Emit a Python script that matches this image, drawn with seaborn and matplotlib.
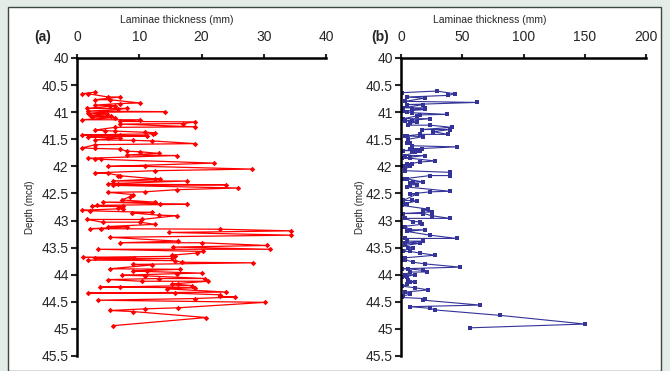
import matplotlib
matplotlib.use('Agg')
import matplotlib.pyplot as plt
import matplotlib.patches as mpatches
import seaborn as sns

# Panel (a): depth (mcd) and laminae thickness (mm)
depth_a = [40.63, 40.66, 40.66, 40.72, 40.72, 40.77, 40.77, 40.83, 40.84, 40.87,
           40.88, 40.89, 40.93, 40.93, 40.95, 40.98, 40.99, 41.00, 41.02, 41.03,
           41.06, 41.07, 41.09, 41.10, 41.14, 41.14, 41.17, 41.18, 41.21, 41.22,
           41.27, 41.28, 41.33, 41.34, 41.35, 41.37, 41.38, 41.40, 41.42, 41.43,
           41.44, 41.46, 41.47, 41.48, 41.51, 41.52, 41.53, 41.58, 41.60, 41.66,
           41.67, 41.68, 41.72, 41.73, 41.76, 41.79, 41.80, 41.85, 41.86, 41.87,
           41.94, 42.00, 42.00, 42.05, 42.08, 42.12, 42.13, 42.17, 42.17, 42.23,
           42.23, 42.27, 42.27, 42.32, 42.33, 42.34, 42.35, 42.40, 42.43, 42.47,
           42.48, 42.52, 42.56, 42.62, 42.66, 42.66, 42.69, 42.70, 42.72, 42.74,
           42.74, 42.77, 42.78, 42.81, 42.82, 42.85, 42.86, 42.90, 42.91, 42.98,
           42.98, 43.03, 43.03, 43.07, 43.11, 43.12, 43.15, 43.15, 43.16, 43.19,
           43.22, 43.27, 43.31, 43.38, 43.41, 43.41, 43.46, 43.49, 43.53, 43.53,
           43.57, 43.60, 43.64, 43.66, 43.68, 43.69, 43.70, 43.70, 43.73, 43.74,
           43.77, 43.78, 43.81, 43.82, 43.89, 43.90, 43.93, 43.94, 43.97, 43.98,
           44.01, 44.02, 44.07, 44.07, 44.09, 44.12, 44.12, 44.17, 44.18, 44.20,
           44.23, 44.23, 44.24, 44.26, 44.32, 44.34, 44.34, 44.37, 44.40, 44.41,
           44.44, 44.47, 44.51, 44.61, 44.63, 44.66, 44.68, 44.79, 44.94]
thick_a = [2.9, 0.8, 1.8, 5.0, 6.9, 2.9, 5.3, 10.1, 6.9, 2.9,
           6.1, 5.3, 1.6, 8.0, 6.6, 1.8, 14.1, 4.2, 1.8, 4.8,
           2.1, 5.5, 2.4, 6.1, 0.8, 10.1, 6.9, 19.0, 17.1, 6.9,
           19.0, 6.1, 2.9, 4.5, 6.1, 10.9, 12.5, 12.2, 0.8, 6.9,
           11.2, 1.8, 5.0, 6.9, 2.9, 9.0, 12.0, 19.0, 2.9, 0.8,
           2.9, 6.9, 8.0, 10.1, 13.1, 8.0, 16.0, 1.8, 2.9, 3.9,
           22.0, 5.0, 10.9, 28.1, 12.5, 2.9, 5.0, 6.9, 6.6, 12.5,
           13.3, 5.8, 17.7, 5.0, 6.6, 24.0, 5.8, 25.9, 16.0, 10.9,
           5.0, 9.0, 8.5, 7.2, 12.5, 4.2, 13.3, 17.7, 3.2, 2.4,
           7.4, 6.6, 7.4, 0.8, 2.1, 12.0, 8.8, 13.1, 16.0, 10.4,
           1.6, 4.1, 10.1, 12.5, 5.0, 8.0, 2.1, 3.9, 23.0, 34.4,
           14.8, 34.4, 5.3, 16.2, 6.9, 20.0, 30.5, 15.5, 31.0, 3.4,
           20.3, 19.2, 15.2, 15.8, 0.9, 9.1, 2.9, 15.2, 1.8, 15.8,
           16.8, 28.3, 9.0, 12.0, 5.3, 16.5, 9.0, 11.2, 20.0, 16.0,
           7.2, 10.9, 20.6, 13.1, 5.0, 10.4, 21.1, 15.2, 16.3, 18.4,
           3.7, 6.9, 18.9, 14.4, 24.0, 1.8, 15.7, 22.9, 22.9, 25.4,
           18.9, 3.4, 30.2, 16.3, 10.9, 5.3, 9.0, 20.8, 5.8]

# Panel (b)
depth_b = [40.64, 40.61, 40.66, 40.69, 40.72, 40.74, 40.80, 40.82, 40.86, 40.86,
           40.92, 40.92, 40.95, 40.95, 40.98, 40.99, 41.01, 41.04, 41.05, 41.07,
           41.12, 41.12, 41.16, 41.16, 41.19, 41.20, 41.24, 41.24, 41.28, 41.32,
           41.32, 41.36, 41.41, 41.41, 41.44, 41.44, 41.45, 41.50, 41.56, 41.56,
           41.62, 41.64, 41.68, 41.68, 41.71, 41.71, 41.72, 41.74, 41.74, 41.80,
           41.80, 41.85, 41.85, 41.90, 41.92, 41.96, 41.96, 42.00, 42.00, 42.05,
           42.08, 42.11, 42.17, 42.17, 42.23, 42.23, 42.29, 42.29, 42.30, 42.34,
           42.34, 42.38, 42.46, 42.47, 42.51, 42.51, 42.63, 42.63, 42.64, 42.69,
           42.69, 42.72, 42.79, 42.80, 42.84, 42.87, 42.87, 42.91, 42.96, 42.96,
           43.02, 43.02, 43.07, 43.11, 43.11, 43.17, 43.17, 43.20, 43.27, 43.33,
           43.33, 43.38, 43.38, 43.42, 43.42, 43.46, 43.51, 43.51, 43.57, 43.57,
           43.60, 43.64, 43.69, 43.69, 43.72, 43.72, 43.77, 43.80, 43.86, 43.89,
           43.89, 43.92, 43.95, 43.95, 44.00, 44.00, 44.05, 44.05, 44.09, 44.14,
           44.14, 44.18, 44.21, 44.24, 44.28, 44.32, 44.36, 44.39, 44.42, 44.44,
           44.47, 44.56, 44.59, 44.62, 44.65, 44.75, 44.91, 44.98]
thick_b = [0.5, 29.1, 44.1, 38.6, 4.6, 19.6, 3.3, 61.8, 4.6, 18.2,
           1.9, 19.6, 8.7, 19.6, 1.9, 4.6, 8.7, 37.3, 15.5, 12.8,
           1.9, 23.7, 3.3, 8.7, 12.8, 7.3, 6.0, 23.7, 41.4, 16.9,
           40.0, 26.4, 38.6, 15.5, 3.3, 4.6, 18.2, 6.0, 4.6, 7.3,
           8.7, 45.4, 7.3, 16.9, 1.9, 12.8, 15.5, 8.7, 11.4, 3.3,
           19.6, 0.5, 7.3, 27.8, 15.5, 4.6, 8.7, 1.9, 7.3, 3.3,
           3.3, 40.0, 40.0, 23.7, 1.9, 4.6, 18.2, 10.1, 7.3, 12.8,
           7.3, 4.6, 40.0, 23.7, 7.3, 12.8, 1.9, 8.7, 12.8, 1.9,
           4.6, 0.5, 22.3, 18.2, 25.0, 1.9, 18.2, 25.0, 40.0, 3.3,
           10.1, 15.5, 16.9, 1.9, 3.3, 7.3, 19.6, 4.6, 23.7, 45.4,
           3.3, 4.6, 18.2, 3.3, 15.5, 3.3, 10.1, 6.0, 1.9, 7.3,
           15.5, 27.8, 1.9, 3.3, 0.5, 3.3, 10.1, 19.6, 48.2, 0.5,
           6.0, 18.2, 21.0, 7.3, 3.3, 11.4, 0.5, 4.6, 6.0, 11.4,
           7.3, 4.6, 0.5, 11.4, 22.3, 3.3, 7.3, 1.9, 0.5, 19.6,
           18.2, 64.5, 7.3, 23.7, 27.8, 80.8, 150.2, 56.3]

depth_ticks = [40, 40.5, 41, 41.5, 42, 42.5, 43, 43.5, 44, 44.5, 45, 45.5]
depth_labels = ['40', '40.5', '41', '41.5', '42', '42.5', '43', '43.5', '44', '44.5', '45', '45.5']
xticks_a = [0, 10, 20, 30, 40]
xticks_b = [0, 50, 100, 150, 200]

sns.set_style('white')
plt.rcParams['font.family'] = ['Liberation Sans', 'DejaVu Sans']

fig = plt.figure(figsize=(6.7, 3.71), dpi=100)
fig.patch.set_facecolor('#e4ece8')
W, H = 670, 371
fig.patches.append(mpatches.Rectangle((8 / W, 0), 653 / W, (H - 7) / H, transform=fig.transFigure,
                                      facecolor='white', edgecolor='#3a4a40', linewidth=1.0, zorder=-5))

top, bot = 58, 356
ax_a = fig.add_axes([77 / W, 1 - bot / H, 249 / W, (bot - top) / H])
ax_b = fig.add_axes([401 / W, 1 - bot / H, 245 / W, (bot - top) / H])

sns.lineplot(x=thick_a, y=depth_a, sort=False, estimator=None, color='#ff0000', marker='D',
             markersize=2.8, markeredgewidth=0, linewidth=0.9, ax=ax_a)
sns.lineplot(x=thick_b, y=depth_b, sort=False, estimator=None, color='#333399', marker='s',
             markersize=3.5, markeredgewidth=0, linewidth=0.8, ax=ax_b)

for ax, xt, xmax, lx, ly, tag, tagx in [(ax_a, xticks_a, 40, 0.40, -0.17, '(a)', 43),
                                        (ax_b, xticks_b, 200, 0.363, -0.145, '(b)', 380)]:
    ax.set_facecolor('none')
    ax.set_xlim(0, xmax)
    ax.set_ylim(45.5, 40)
    ax.set_xticks(xt)
    ax.set_yticks(depth_ticks)
    ax.set_yticklabels(depth_labels)
    ax.xaxis.tick_top()
    ax.xaxis.set_label_position('top')
    for s in ['right', 'bottom']:
        ax.spines[s].set_visible(False)
    for s in ['left', 'top']:
        ax.spines[s].set_linewidth(1.8)
        ax.spines[s].set_color('black')
    ax.tick_params(axis='x', direction='out', length=3, width=1.5, pad=7, labelsize=10, top=True)
    ax.tick_params(axis='y', direction='out', length=4, width=1.5, pad=2, labelsize=10, left=True)
    ax.set_xlabel('Laminae thickness (mm)', fontsize=7.5)
    ax.xaxis.set_label_coords(lx, 1.117)
    ax.set_ylabel('Depth (mcd)', fontsize=7)
    ax.yaxis.set_label_coords(ly, 0.5)
    fig.text(tagx / W, 1 - 37 / H, tag, fontsize=10, fontweight='bold', ha='center', va='center')

fig.savefig('out.png', dpi=100, facecolor=fig.get_facecolor())
